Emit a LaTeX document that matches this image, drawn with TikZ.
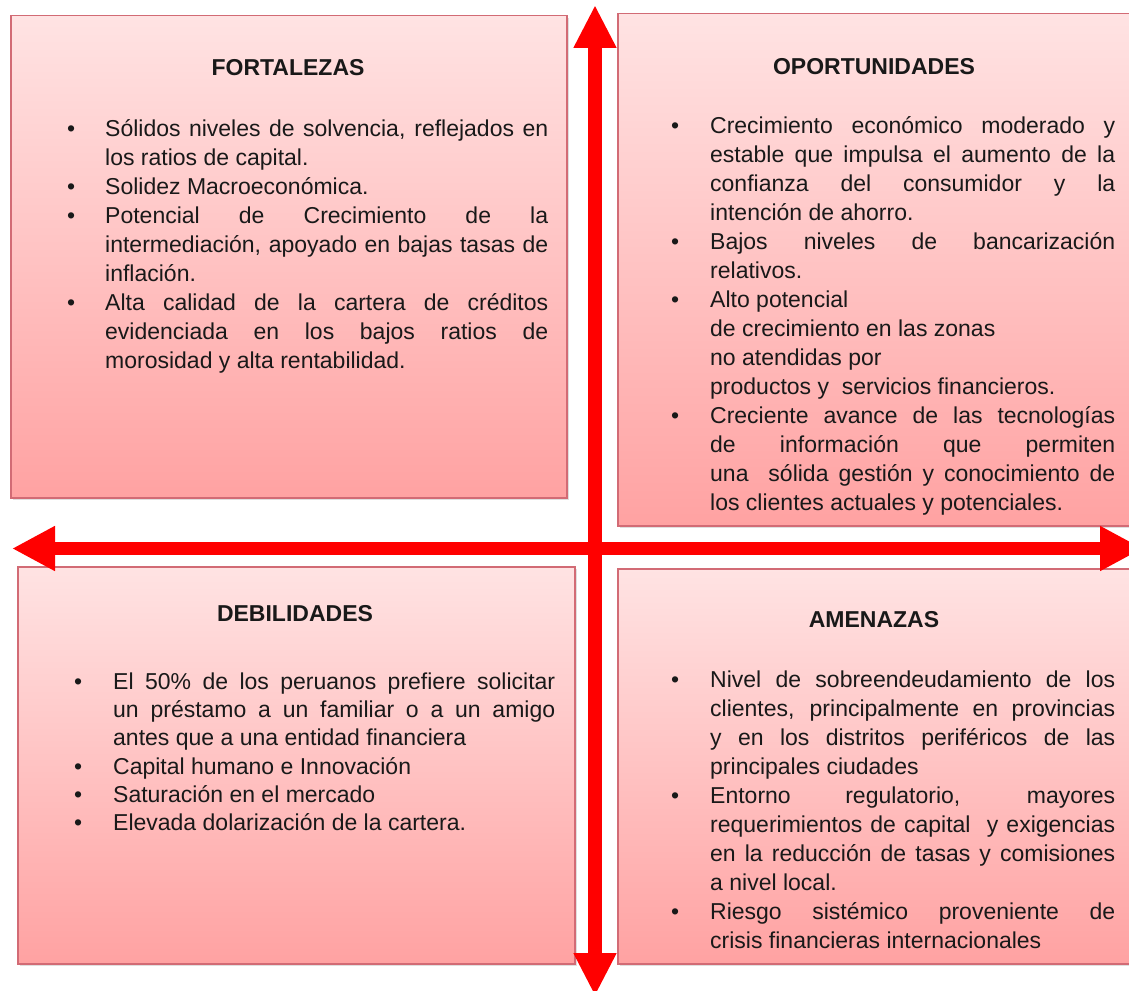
\documentclass[tikz,border=0pt]{standalone}
\usepackage{fontspec}
\setmainfont{Liberation Sans}
\usetikzlibrary{arrows.meta,shadows}
\definecolor{boxtop}{HTML}{FFE3E3}
\definecolor{boxbot}{HTML}{FFA2A2}
\definecolor{boxedge}{HTML}{D26B75}
\definecolor{axisred}{HTML}{FF0000}
\newlength{\lw}
\newlength{\bw}
\setlength{\parindent}{0pt}
\setlength{\parskip}{0pt}
\newcommand{\sps}{\spaceskip=0.278em plus 10em minus 0.04em\relax}
\newcommand{\Jb}[1]{\noindent\hbox to \bw{\textbullet\hfil}\hbox to \lw{\sps\rule{0pt}{22pt}#1}\par}
\newcommand{\Lb}[1]{\noindent\hbox to \bw{\textbullet\hfil}\hbox to \lw{\sps\rule{0pt}{22pt}#1\hfill}\par}
\newcommand{\Jl}[1]{\noindent\hbox to \bw{\hfil}\hbox to \lw{\sps\rule{0pt}{22pt}#1}\par}
\newcommand{\Ll}[1]{\noindent\hbox to \bw{\hfil}\hbox to \lw{\sps\rule{0pt}{22pt}#1\hfill}\par}
\hbadness=10000
\begin{document}
\begin{tikzpicture}[x=1pt,y=-1pt,
  quadbox/.style={rectangle, draw=boxedge, line width=1.5pt, top color=boxtop, bottom color=boxbot,
    anchor=north west, inner sep=0pt,
    drop shadow={opacity=0.25, shadow xshift=2pt, shadow yshift=-2pt}},
  title/.style={inner sep=0pt, font=\bfseries\fontsize{23}{29}\selectfont, text=black!90},
  body/.style={inner sep=0pt, anchor=north west, text=black!90, font=\fontsize{23}{29}\selectfont},
  axisv/.style={draw=axisred, line width=14pt, {Triangle[width=40pt,length=43pt]}-{Triangle[width=40pt,length=43pt]}},
  axish/.style={draw=axisred, line width=13pt, {Triangle[width=42pt,length=43pt]}-{Triangle[width=42pt,length=43pt]}}
]
\useasboundingbox (0,0) rectangle (1129,990);
\fill[white] (0,0) rectangle (1129,990);

% quadrant boxes
\node[quadbox, minimum width=556pt, minimum height=482pt] (fbox) at (10,15) {};
\node[quadbox, minimum width=514pt, minimum height=512pt] (obox) at (617,13) {};
\node[quadbox, minimum width=557pt, minimum height=397pt] (dbox) at (17,566) {};
\node[quadbox, minimum width=514pt, minimum height=395pt] (abox) at (617,568) {};

% titles
\node[title] (ftitle) at (288,68) {FORTALEZAS};
\node[title] (otitle) at (874,67) {OPORTUNIDADES};
\node[title] (dtitle) at (295,614) {DEBILIDADES};
\node[title] (atitle) at (874,620) {AMENAZAS};

% bodies
\node[body, text width=481pt] (fbody) at (67,114) {\setlength{\bw}{38pt}\setlength{\lw}{443pt}%
\Jb{Sólidos niveles de solvencia, reflejados en}
\Ll{los ratios de capital.}
\Lb{Solidez Macroeconómica.}
\Jb{Potencial de Crecimiento de la}
\Jl{intermediación, apoyado en bajas tasas de}
\Ll{inflación.}
\Jb{Alta calidad de la cartera de créditos}
\Jl{evidenciada en los bajos ratios de}
\Ll{morosidad y alta rentabilidad.}};

\node[body, text width=444pt] (obody) at (671,111) {\setlength{\bw}{39pt}\setlength{\lw}{405pt}%
\Jb{Crecimiento económico moderado y}
\Jl{estable que impulsa el aumento de la}
\Jl{confianza del consumidor y la}
\Ll{intención de ahorro.}
\Jb{Bajos niveles de bancarización}
\Ll{relativos.}
\Lb{Alto potencial}
\Ll{de crecimiento en las zonas}
\Ll{no atendidas por}
\Ll{productos y\ \ servicios financieros.}
\Jb{Creciente avance de las tecnologías}
\Jl{de información que permiten}
\Jl{una\ \ sólida gestión y conocimiento de}
\Ll{los clientes actuales y potenciales.}};

\node[body, text width=481pt, font=\fontsize{23}{28.3}\selectfont] (dbody) at (74,667) {\setlength{\bw}{39pt}\setlength{\lw}{442pt}%
\Jb{El 50\% de los peruanos prefiere solicitar}
\Jl{un préstamo a un familiar o a un amigo}
\Ll{antes que a una entidad financiera}
\Lb{Capital humano e Innovación}
\Lb{Saturación en el mercado}
\Lb{Elevada dolarización de la cartera.}};

\node[body, text width=444pt] (abody) at (671,665) {\setlength{\bw}{39pt}\setlength{\lw}{405pt}%
\Jb{Nivel de sobreendeudamiento de los}
\Jl{clientes, principalmente en provincias}
\Jl{y en los distritos periféricos de las}
\Ll{principales ciudades}
\Jb{Entorno regulatorio, mayores}
\Jl{requerimientos de capital\ \ y exigencias}
\Jl{en la reducción de tasas y comisiones}
\Ll{a nivel local.}
\Jb{Riesgo sistémico proveniente de}
\Ll{crisis financieras internacionales}};

% axes
\coordinate (vtop) at (595,5);
\coordinate (vbot) at (595,996);
\coordinate (hleft) at (12,548.5);
\coordinate (hright) at (1143,548.5);
\draw[axish] (hleft) -- (hright);
\draw[axisv] (vtop) -- (vbot);
\end{tikzpicture}
\end{document}
